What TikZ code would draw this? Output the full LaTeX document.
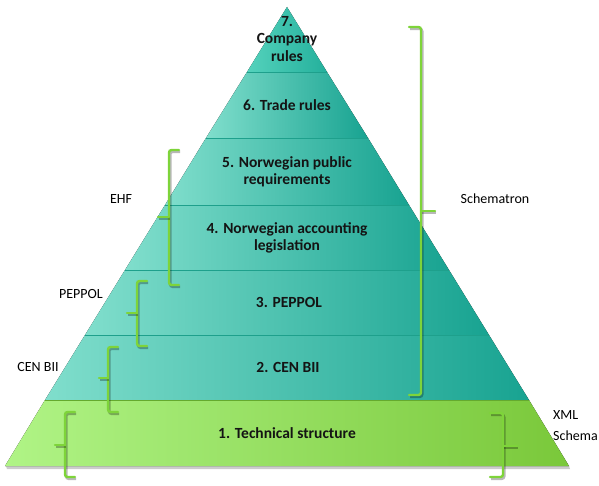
\documentclass[tikz,border=0pt]{standalone}
\usepackage{fontspec}
\setmainfont{Carlito}
\definecolor{tealA}{RGB}{128,222,204}
\definecolor{tealB}{RGB}{24,163,145}
\definecolor{tealTopA}{RGB}{84,210,188}
\definecolor{tealTopB}{RGB}{36,176,156}
\definecolor{tealLine}{RGB}{30,160,140}
\definecolor{grnA}{RGB}{176,244,134}
\definecolor{grnM}{RGB}{152,238,104}
\definecolor{grnB}{RGB}{122,200,58}
\definecolor{brkgreen}{RGB}{126,212,58}
\begin{document}
\begin{tikzpicture}[x=1pt,y=-1pt,
  layer/.style={left color=tealA, right color=tealB},
  sep/.style={draw=tealLine, line width=0.8pt},
  brk/.style={draw=brkgreen, line width=2.4pt, rounded corners=2.5pt, line cap=round,
    preaction={draw=black, draw opacity=0.28, line width=2.6pt, transform canvas={shift={(1.2pt,-1.8pt)}}}},
  lbl/.style={font=\fontsize{15.5}{17.5}\selectfont\bfseries, align=center, text=black!92, inner sep=0pt},
  side/.style={font=\fontsize{14}{21}\selectfont, text=black, inner sep=0pt}]
\useasboundingbox (0,0) rectangle (599,486);
% shadow under the base
\fill[black!40, opacity=0.5] (6,466) -- (569,466) -- (570,469) -- (7,469) -- cycle;
% base layer
\fill[left color=grnA, middle color=grnM, right color=grnB] (45,400) -- (529,400) -- (569,466) -- (5,466) -- cycle;
% teal layers
\fill[layer] (85,335) -- (489,335) -- (529,400) -- (45,400) -- cycle;
\fill[layer] (125,270) -- (449,270) -- (489,335) -- (85,335) -- cycle;
\fill[layer] (165,205) -- (409,205) -- (449,270) -- (125,270) -- cycle;
\fill[layer] (206,138) -- (368,138) -- (409,205) -- (165,205) -- cycle;
\fill[layer] (247,72) -- (327,72) -- (368,138) -- (206,138) -- cycle;
\fill[left color=tealTopA, right color=tealTopB] (287,7) -- (327,72) -- (247,72) -- cycle;
% separators
\draw[sep] (247,72) -- (327,72);
\draw[sep] (206,138) -- (368,138);
\draw[sep] (165,205) -- (409,205);
\draw[sep] (125,270) -- (449,270);
\draw[sep] (85,335) -- (489,335);
\draw[draw=brkgreen!80!black, line width=0.6pt] (45,400) -- (529,400);
% layer texts
\node[lbl] (l7) at (287,39) {7.\\Company\\rules};
\node[lbl] (l6) at (287,105) {6. Trade rules};
\node[lbl] (l5) at (287,172) {5. Norwegian public\\requirements};
\node[lbl] (l4) at (287,238) {4. Norwegian accounting\\legislation};
\node[lbl] (l3) at (289,302) {3. PEPPOL};
\node[lbl] (l2) at (288,367) {2. CEN BII};
\node[lbl] (l1) at (287,433) {1. Technical structure};
% brackets
\draw[brk] (409,27) -- (421,27) -- (421,395) -- (409,395);
\draw[brk] (421,211) -- (435,211);
\draw[brk] (179,150) -- (169,150) -- (169,285) -- (179,285);
\draw[brk] (169,217) -- (158,217);
\draw[brk] (147,281) -- (137,281) -- (137,346) -- (147,346);
\draw[brk] (137,313) -- (127,313);
\draw[brk] (118,347) -- (108,347) -- (108,412) -- (118,412);
\draw[brk] (108,378) -- (99,378);
\draw[brk] (75,412) -- (65,412) -- (65,477) -- (75,477);
\draw[brk] (65,445) -- (55,445);
\draw[brk] (490,413) -- (503,413) -- (503,477) -- (490,477);
\draw[brk] (503,446) -- (517,446);
% side labels
\node[side] (schematron) at (495,199) {Schematron};
\node[side] (ehf) at (121,199) {EHF};
\node[side] (peppol) at (81,294) {PEPPOL};
\node[side] (cenbii) at (38,367) {CEN BII};
\node[side, align=left, anchor=west] (xml) at (553,426) {XML\\Schema};
\end{tikzpicture}
\end{document}
